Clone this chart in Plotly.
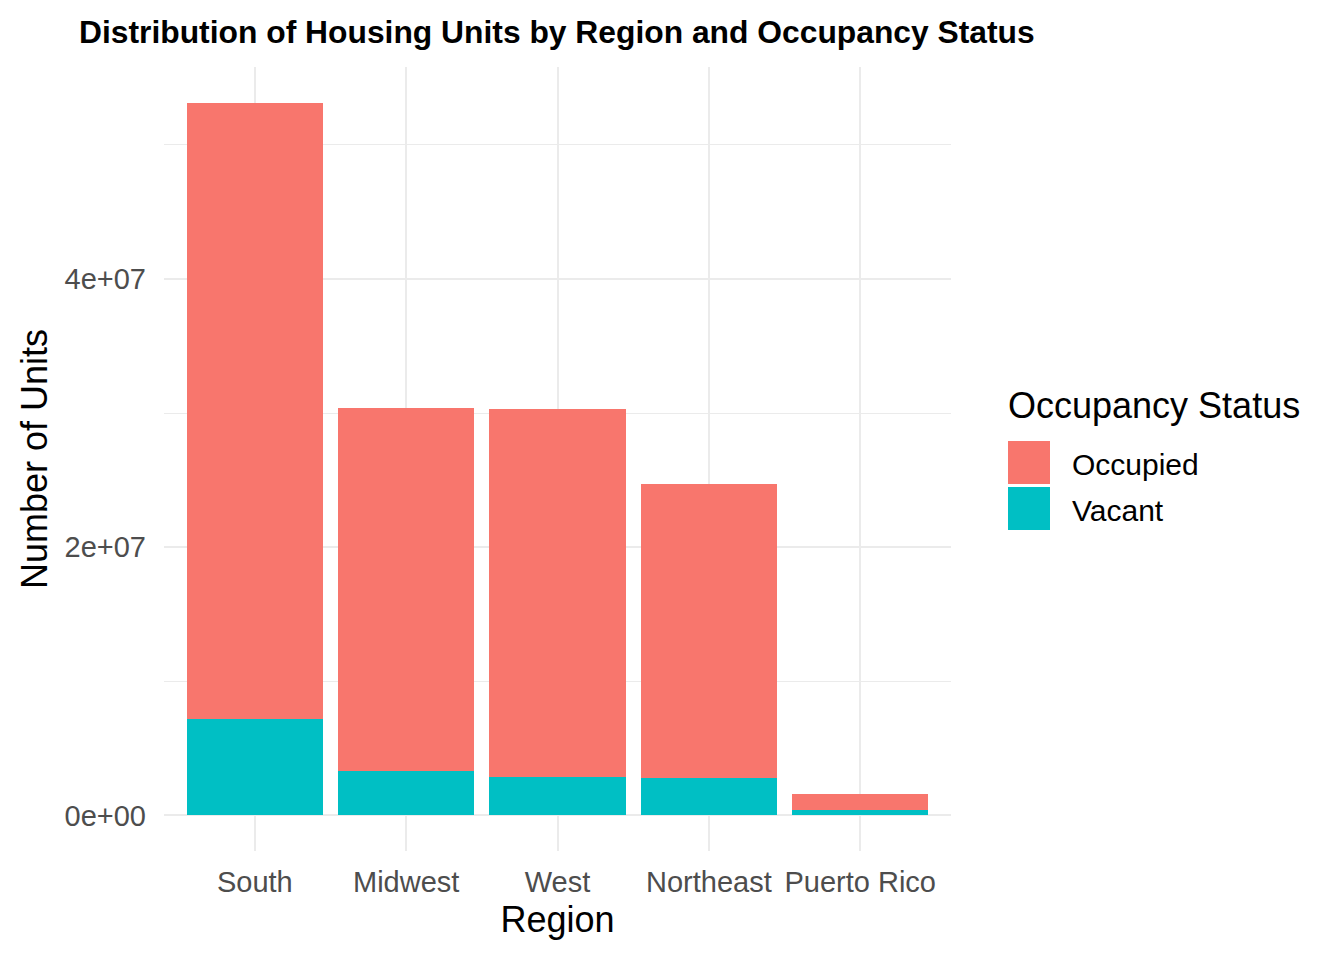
import plotly.graph_objects as go

regions = ["South", "Midwest", "West", "Northeast", "Puerto Rico"]
occupied = [45.95e6, 27.03e6, 27.40e6, 21.87e6, 1.17e6]
vacant = [7.19e6, 3.31e6, 2.87e6, 2.81e6, 0.43e6]
status_labels = ["Occupied", "Vacant"]
colors = {"Occupied": "#F8766D", "Vacant": "#00BFC4"}
y_ticks = [0, 2e7, 4e7]
y_ticktext = ["0e+00", "2e+07", "4e+07"]
y_minor = [1e7, 3e7, 5e7]

OFF = 8  # page body margin
W, H = 1344 - OFF, 960 - OFF
L, R, T, B = 164 - OFF, 951 - OFF, 67 - OFF, 851 - OFF

fig = go.Figure()
fig.add_trace(go.Bar(x=regions, y=vacant, name="Vacant", marker_color=colors["Vacant"],
                     marker_line_width=0, showlegend=False))
fig.add_trace(go.Bar(x=regions, y=occupied, name="Occupied", marker_color=colors["Occupied"],
                     marker_line_width=0, showlegend=False))

ymax = max(o + v for o, v in zip(occupied, vacant))
font = "Liberation Sans, Arial, sans-serif"

def px(xp):
    return (xp - OFF - L) / (R - L)

def py(yp):
    return (B - (yp - OFF)) / (B - T)

shapes = []
annotations = []
annotations.append(dict(text="Occupancy Status", x=px(1006), y=py(405), xref="paper", yref="paper",
                        xanchor="left", yanchor="middle", showarrow=False,
                        font=dict(family=font, size=36, color="black")))
key_tops = [441, 487]
for lab, top in zip(status_labels, key_tops):
    shapes.append(dict(type="rect", xref="paper", yref="paper", x0=px(1008), x1=px(1050),
                       y0=py(top + 43), y1=py(top), fillcolor=colors[lab], line_width=0))
    annotations.append(dict(text=lab, x=px(1070), y=py(top + 23), xref="paper", yref="paper",
                            xanchor="left", yanchor="middle", showarrow=False,
                            font=dict(family=font, size=30, color="black")))

fig.update_layout(
    width=W, height=H,
    barmode="stack", bargap=0.1,
    plot_bgcolor="white", paper_bgcolor="white",
    margin=dict(l=L, r=W - R, t=T, b=H - B, autoexpand=False),
    title=dict(text="<b>Distribution of Housing Units by Region and Occupancy Status</b>",
               x=(79 - OFF) / W, xref="container", xanchor="left", y=1 - (32 - OFF) / H, yref="container",
               yanchor="middle", font=dict(family=font, size=31.8, color="black")),
    xaxis=dict(range=[-0.6, 4.6], showgrid=True, gridcolor="#EBEBEB", gridwidth=2,
               zeroline=False, showline=False, ticks="", ticklabelstandoff=11,
               tickfont=dict(family=font, size=29, color="#4D4D4D"),
               title=dict(text="Region", font=dict(family=font, size=36, color="black"), standoff=9)),
    yaxis=dict(range=[-0.05 * ymax, 1.05 * ymax], tickvals=y_ticks, ticktext=y_ticktext,
               showgrid=True, gridcolor="#EBEBEB", gridwidth=2, zeroline=False, showline=False,
               ticks="", ticklabelstandoff=17,
               tickfont=dict(family=font, size=29, color="#4D4D4D"),
               minor=dict(tickvals=y_minor, showgrid=True, gridcolor="#EBEBEB", gridwidth=1),
               title=dict(text="Number of Units", font=dict(family=font, size=36, color="black"), standoff=5)),
    shapes=shapes, annotations=annotations,
)

fig.write_html("out.html")
